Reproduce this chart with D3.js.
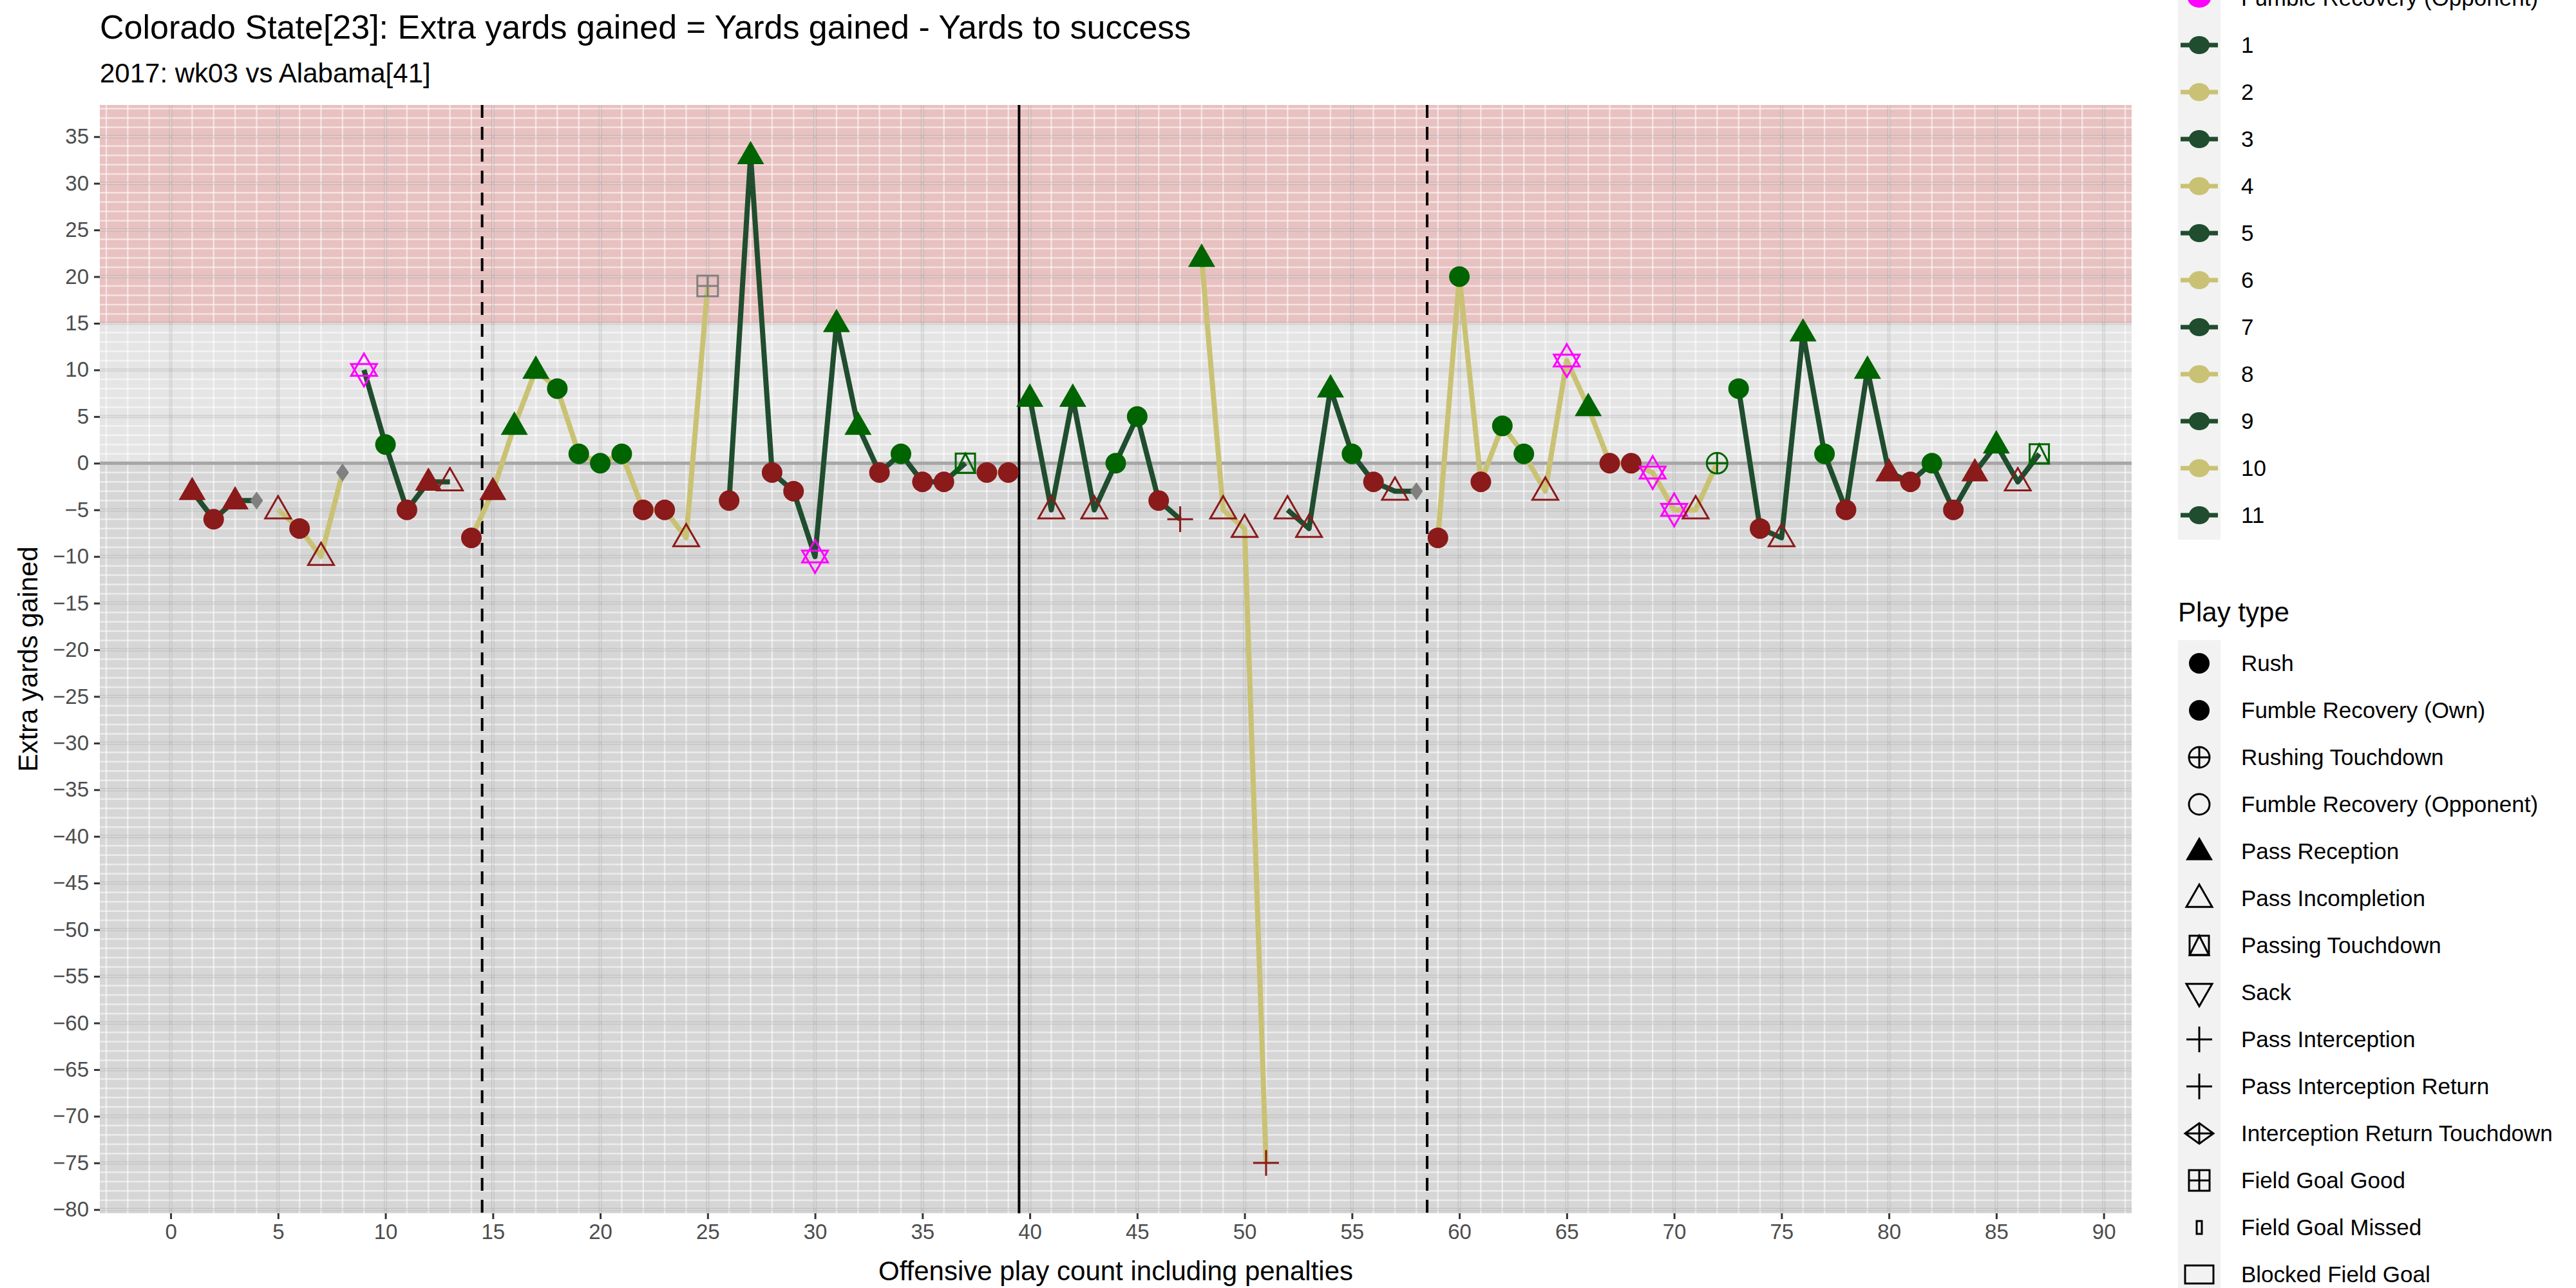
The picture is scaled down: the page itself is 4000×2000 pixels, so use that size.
<!DOCTYPE html>
<html>
<head>
<meta charset="utf-8">
<script src="https://cdn.jsdelivr.net/npm/d3@7"></script>
<style>
  body { margin: 0; background: #fff; }
  text { font-family: "Liberation Sans", Arial, sans-serif; }
</style>
</head>
<body>
<svg id="chart" width="4000" height="2000"></svg>
<script>
// play number, extra yards, play type, outcome, drive
var plays  = [1,2,3,4,5,6,7,8,9,10,11,12,13,14,15,16,17,18,19,20,21,22,23,24,25,26,27,28,29,30,31,32,33,34,35,36,37,38,39,40,41,42,43,44,45,46,47,48,49,50,51,52,53,54,55,56,57,58,59,60,61,62,63,64,65,66,67,68,69,70,71,72,73,74,75,76,77,78,79,80,81,82,83,84,85,86,87];
var yards  = [-3,-6,-4,-4,-5,-7,-10,-1,10,2,-5,-2,-2,-8,-3,4,10,8,1,0,1,-5,-5,-8,19,-4,33,-1,-3,-10,15,4,-1,1,-2,-2,0,-1,-1,7,-5,7,-5,0,5,-4,-6,22,-5,-7,-75,-5,-7,8,1,-2,-3,-3,-8,20,-2,4,1,-3,11,6,0,0,-1,-5,-5,0,8,-7,-8,14,1,-5,10,-1,-2,0,-5,-1,2,-2,1];
var types  = ["PR","R","PR","PEN","PI","R","PI","PEN","S","R","R","PR","PI","R","PR","PR","PR","R","R","R","R","R","R","PI","FG","R","PR","R","R","S","PR","PR","R","R","R","R","PTD","R","R","PR","PI","PR","PI","R","R","R","INT","PR","PI","PI","INT","PI","PI","PR","R","R","PI","PEN","R","R","R","R","R","PI","S","PR","R","R","S","S","PI","RTD","R","R","PI","PR","R","R","PR","PR","R","R","R","PR","PR","PI","PTD"];
var result = ["f","f","f","p","f","f","f","p","k","s","f","f","f","f","f","s","s","s","s","s","s","f","f","f","p","f","s","f","f","k","s","s","f","s","f","f","s","f","f","s","f","s","f","s","s","f","f","s","f","f","f","f","f","s","s","f","f","p","f","s","f","s","s","f","k","s","f","f","k","k","f","s","s","f","f","s","s","f","s","f","f","s","f","f","s","f","s"];
var drives = [1,1,1,1,2,2,2,2,3,3,3,3,3,4,4,4,4,4,4,4,4,4,4,4,4,5,5,5,5,5,5,5,5,5,5,5,5,6,6,7,7,7,7,7,7,7,7,8,8,8,8,9,9,9,9,9,9,9,10,10,10,10,10,10,10,10,10,10,10,10,10,10,11,11,11,11,11,11,11,11,11,11,11,11,11,11,11];

var driveNames = ["1","2","3","4","5","6","7","8","9","10","11"];
var playTypeNames = ["Rush","Fumble Recovery (Own)","Rushing Touchdown","Fumble Recovery (Opponent)","Pass Reception","Pass Incompletion","Passing Touchdown","Sack","Pass Interception","Pass Interception Return","Interception Return Touchdown","Field Goal Good","Field Goal Missed","Blocked Field Goal"];
var playTypeShapes = ["R","R","RTD","FRO","PR","PI","PTD","SACKOPEN","INT","INT","IRTD","FG","FGM","BFG"];
var xTicks = d3.range(0, 91, 5);
var yTicks = d3.range(-80, 36, 5);
var driveBreaks = [14.5, 58.5];
var halfBreak = 39.5;

var outcomeColor = { s: "#006400", f: "#8b1a1a", k: "#ff00ff", p: "#808080" };
var driveColor = function(d) { return d % 2 == 1 ? "#1f4d2e" : "#c9c274"; };

var svg = d3.select("#chart");
var pLeft = 155, pRight = 3310, pTop = 163, pBottom = 1884;

var x = d3.scaleLinear().domain([-3.3, 91.3]).range([pLeft, pRight]);
var y = d3.scaleLinear().domain([-80.4, 38.4]).range([pBottom, pTop]);

svg.append("defs").append("clipPath").attr("id", "clip")
  .append("rect").attr("x", pLeft).attr("y", pTop).attr("width", pRight - pLeft).attr("height", pBottom - pTop);

var panel = svg.append("g").attr("clip-path", "url(#clip)");

// background bands
panel.append("rect").attr("x", pLeft).attr("width", pRight - pLeft)
  .attr("y", pTop).attr("height", y(15) - pTop).attr("fill", "#e8c1c1");
panel.append("rect").attr("x", pLeft).attr("width", pRight - pLeft)
  .attr("y", y(15)).attr("height", y(0) - y(15)).attr("fill", "#e5e5e5");
panel.append("rect").attr("x", pLeft).attr("width", pRight - pLeft)
  .attr("y", y(0)).attr("height", pBottom - y(0)).attr("fill", "#d6d6d6");

// minor grid every unit
panel.selectAll(".vmin").data(d3.range(-3, 92)).enter().append("line")
  .attr("x1", d => x(d)).attr("x2", d => x(d)).attr("y1", pTop).attr("y2", pBottom)
  .attr("stroke", "#fff").attr("stroke-opacity", 0.55).attr("stroke-width", 2.5);
panel.selectAll(".hmin").data(d3.range(-80, 39)).enter().append("line")
  .attr("y1", d => y(d)).attr("y2", d => y(d)).attr("x1", pLeft).attr("x2", pRight)
  .attr("stroke", "#fff").attr("stroke-opacity", 0.55).attr("stroke-width", 2.5);

// major grid
panel.selectAll(".vmaj").data(xTicks).enter().append("line")
  .attr("x1", d => x(d)).attr("x2", d => x(d)).attr("y1", pTop).attr("y2", pBottom)
  .attr("stroke", "#000").attr("stroke-opacity", 0.09).attr("stroke-width", 5);
panel.selectAll(".hmaj").data(yTicks).enter().append("line")
  .attr("y1", d => y(d)).attr("y2", d => y(d)).attr("x1", pLeft).attr("x2", pRight)
  .attr("stroke", "#000").attr("stroke-opacity", 0.09).attr("stroke-width", 5);
panel.append("line").attr("x1", pLeft).attr("x2", pRight).attr("y1", y(0)).attr("y2", y(0))
  .attr("stroke", "#a6a6a6").attr("stroke-width", 5);

// quarter / half markers
driveBreaks.forEach(function(b) {
  panel.append("line").attr("x1", x(b)).attr("x2", x(b)).attr("y1", pTop).attr("y2", pBottom)
    .attr("stroke", "#000").attr("stroke-width", 4).attr("stroke-dasharray", "20,14");
});
panel.append("line").attr("x1", x(halfBreak)).attr("x2", x(halfBreak)).attr("y1", pTop).attr("y2", pBottom)
  .attr("stroke", "#000").attr("stroke-width", 4);

// drive lines
var data = plays.map(function(p, i) {
  return { play: p, yds: yards[i], type: types[i], res: result[i], drive: drives[i] };
});
var byDrive = d3.groups(data, d => d.drive);
var line = d3.line().x(d => x(d.play)).y(d => y(d.yds));
panel.selectAll(".drive").data(byDrive).enter().append("path")
  .attr("d", d => line(d[1])).attr("fill", "none")
  .attr("stroke", d => driveColor(d[0])).attr("stroke-width", 8).attr("stroke-linejoin", "round");

function triPath(s, down) {
  var h = s * 0.866, k = down ? -1 : 1;
  return "M0," + (-k * h * 0.62) + "L" + (s / 2) + "," + (k * h * 0.38) + "L" + (-s / 2) + "," + (k * h * 0.38) + "Z";
}

function drawShape(g, shape, color) {
  var sw = 3;
  if (shape == "R") {
    g.append("circle").attr("r", 16).attr("fill", color);
  } else if (shape == "PR") {
    g.append("path").attr("d", triPath(42, false)).attr("fill", color);
  } else if (shape == "PI") {
    g.append("path").attr("d", triPath(40, false)).attr("fill", "none").attr("stroke", color).attr("stroke-width", sw);
  } else if (shape == "S") {
    g.append("path").attr("d", triPath(40, false)).attr("fill", "none").attr("stroke", color).attr("stroke-width", sw).attr("transform", "translate(0,-4)");
    g.append("path").attr("d", triPath(40, true)).attr("fill", "none").attr("stroke", color).attr("stroke-width", sw).attr("transform", "translate(0,4)");
  } else if (shape == "SACKOPEN") {
    g.append("path").attr("d", triPath(40, true)).attr("fill", "none").attr("stroke", color).attr("stroke-width", sw);
  } else if (shape == "INT") {
    g.append("path").attr("d", "M-20,0H20M0,-20V20").attr("stroke", color).attr("stroke-width", sw);
  } else if (shape == "PTD") {
    g.append("rect").attr("x", -15).attr("y", -15).attr("width", 30).attr("height", 30).attr("fill", "none").attr("stroke", color).attr("stroke-width", sw);
    g.append("path").attr("d", "M0,-15L15,15L-15,15Z").attr("fill", "none").attr("stroke", color).attr("stroke-width", sw);
  } else if (shape == "RTD") {
    g.append("circle").attr("r", 16).attr("fill", "none").attr("stroke", color).attr("stroke-width", sw);
    g.append("path").attr("d", "M-16,0H16M0,-16V16").attr("stroke", color).attr("stroke-width", sw);
  } else if (shape == "FRO") {
    g.append("circle").attr("r", 16).attr("fill", "none").attr("stroke", color).attr("stroke-width", sw);
  } else if (shape == "FG") {
    g.append("rect").attr("x", -16).attr("y", -16).attr("width", 32).attr("height", 32).attr("fill", "none").attr("stroke", color).attr("stroke-width", sw);
    g.append("path").attr("d", "M-16,0H16M0,-16V16").attr("stroke", color).attr("stroke-width", sw);
  } else if (shape == "FGM") {
    g.append("rect").attr("x", -4).attr("y", -10).attr("width", 8).attr("height", 20).attr("fill", "none").attr("stroke", color).attr("stroke-width", sw);
  } else if (shape == "BFG") {
    g.append("rect").attr("x", -22).attr("y", -14).attr("width", 44).attr("height", 28).attr("fill", "none").attr("stroke", color).attr("stroke-width", sw);
  } else if (shape == "IRTD") {
    g.append("path").attr("d", "M-22,0L0,-16L22,0L0,16ZM-22,0H22M0,-16V16").attr("fill", "none").attr("stroke", color).attr("stroke-width", sw);
  } else if (shape == "PEN") {
    g.append("path").attr("d", "M0,-14L10,0L0,14L-10,0Z").attr("fill", color);
  }
}

var pts = panel.selectAll(".pt").data(data).enter().append("g")
  .attr("transform", d => "translate(" + x(d.play) + "," + y(d.yds) + ")");
pts.each(function(d) { drawShape(d3.select(this), d.type, outcomeColor[d.res]); });

// axes
var xAxis = svg.append("g").attr("transform", "translate(0," + pBottom + ")")
  .call(d3.axisBottom(x).tickValues(xTicks).tickSize(9).tickPadding(8));
var yAxis = svg.append("g").attr("transform", "translate(" + pLeft + ",0)")
  .call(d3.axisLeft(y).tickValues(yTicks).tickSize(9).tickPadding(8));
[xAxis, yAxis].forEach(function(a) {
  a.select(".domain").remove();
  a.selectAll(".tick line").attr("stroke", "#333").attr("stroke-width", 3);
  a.selectAll(".tick text").attr("fill", "#4d4d4d").style("font-size", "33px")
    .style("font-family", "'Liberation Sans', Arial, sans-serif");
});

// titles
svg.append("text").attr("x", pLeft).attr("y", 60).style("font-size", "52px")
  .text("Colorado State[23]: Extra yards gained = Yards gained - Yards to success");
svg.append("text").attr("x", pLeft).attr("y", 128).style("font-size", "42px")
  .text("2017: wk03 vs Alabama[41]");
svg.append("text").attr("x", (pLeft + pRight) / 2).attr("y", 1988).attr("text-anchor", "middle")
  .style("font-size", "42px").text("Offensive play count including penalties");
svg.append("text").attr("transform", "translate(58," + ((pTop + pBottom) / 2) + ") rotate(-90)")
  .attr("text-anchor", "middle").style("font-size", "42px").text("Extra yards gained");

// legend: drives
var keyX = 3382, keyW = 66, textX = 3480, rowH = 73;
var lg = svg.append("g");
var driveRow0 = 70;
lg.append("rect").attr("x", keyX).attr("y", 0).attr("width", keyW)
  .attr("height", driveRow0 + (driveNames.length - 1) * rowH + 38).attr("fill", "#f2f2f2");
// partially visible row above the drive keys
lg.append("ellipse").attr("cx", keyX + keyW / 2).attr("cy", driveRow0 - rowH).attr("rx", 18).attr("ry", 15).attr("fill", "#ff00ff");
lg.append("text").attr("x", textX).attr("y", driveRow0 - rowH + 12).style("font-size", "35px").text("Fumble Recovery (Opponent)");
driveNames.forEach(function(n, i) {
  var cy = driveRow0 + i * rowH, c = driveColor(i + 1);
  lg.append("line").attr("x1", keyX + 4).attr("x2", keyX + keyW - 4).attr("y1", cy).attr("y2", cy)
    .attr("stroke", c).attr("stroke-width", 7);
  lg.append("ellipse").attr("cx", keyX + keyW / 2).attr("cy", cy).attr("rx", 16).attr("ry", 14).attr("fill", c);
  lg.append("text").attr("x", textX).attr("y", cy + 12).style("font-size", "35px").text(n);
});

// legend: play type
var ptTitleY = 965, ptRow0 = 1030;
lg.append("text").attr("x", keyX).attr("y", ptTitleY).style("font-size", "42px").text("Play type");
lg.append("rect").attr("x", keyX).attr("y", ptRow0 - 36).attr("width", keyW)
  .attr("height", playTypeNames.length * rowH + 10).attr("fill", "#f2f2f2");
playTypeNames.forEach(function(n, i) {
  var cy = ptRow0 + i * rowH;
  var g = lg.append("g").attr("transform", "translate(" + (keyX + keyW / 2) + "," + cy + ")");
  drawShape(g, playTypeShapes[i], "#000");
  lg.append("text").attr("x", textX).attr("y", cy + 12).style("font-size", "35px").text(n);
});
</script>
</body>
</html>
